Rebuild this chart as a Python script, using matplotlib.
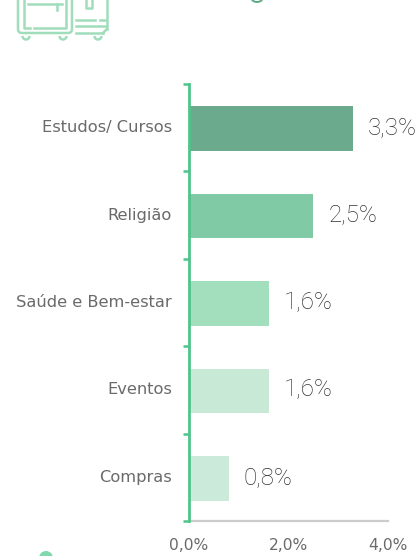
import matplotlib
matplotlib.use("Agg")
import matplotlib.pyplot as plt
from matplotlib.patches import FancyBboxPatch, Circle, Arc

categories = ["Estudos/ Cursos", "Religião", "Saúde e Bem-estar", "Eventos", "Compras"]
values = [3.3, 2.5, 1.6, 1.6, 0.8]
value_labels = ["3,3%", "2,5%", "1,6%", "1,6%", "0,8%"]
bar_colors = ["#6BAA8C", "#80CBA5", "#A3DFBC", "#C8E9D6", "#CBEAD9"]
x_ticks = [0, 2, 4]
x_tick_labels = ["0,0%", "2,0%", "4,0%"]

W, H = 415, 556
fig = plt.figure(figsize=(W / 100, H / 100), dpi=100, facecolor="white")
plt.rcParams["font.family"] = ["DejaVu Sans"]

ax = fig.add_axes([189 / W, 1 - 521 / H, 199 / W, 437 / H])
positions = list(range(len(categories)))
shift = 0.011
ax.barh(positions, values, height=0.51, color=bar_colors, linewidth=0, zorder=2)
ax.set_xlim(0, 4)
ax.set_ylim(len(categories) - 0.5 - shift, -0.5 - shift)

for s in ("top", "right"):
    ax.spines[s].set_visible(False)
ax.spines["left"].set_color("#4FC48A")
ax.spines["left"].set_linewidth(2)
ax.spines["bottom"].set_color("#CCCCCC")
ax.spines["bottom"].set_linewidth(1.6)
ax.spines["left"].set_zorder(4)

ax.set_yticks([p - 0.5 - shift for p in positions] + [len(categories) - 0.5 - shift])
ax.set_yticklabels([])
ax.tick_params(axis="y", length=4, width=1.8, color="#4FC48A", pad=0)
ax.set_xticks(x_ticks)
ax.set_xticklabels(x_tick_labels, fontsize=11.2, color="#6A6A6A")
ax.tick_params(axis="x", length=0, pad=12)

for p, cat, v, lab in zip(positions, categories, values, value_labels):
    ax.annotate(cat, xy=(0, p), xytext=(-17, 1), textcoords="offset pixels",
                ha="right", va="center", fontsize=11.7, color="#6A6A6A")
    ax.annotate(lab, xy=(v, p), xytext=(15, 1), textcoords="offset pixels",
                ha="left", va="center", fontsize=17.4, color="#333333",
                family=["Roboto", "DejaVu Sans"], fontweight="light",
                annotation_clip=False)

# decorative icon and cropped elements, in pixel space
deco = fig.add_axes([0, 0, 1, 1], zorder=-1)
deco.set_xlim(0, W)
deco.set_ylim(H, 0)
deco.axis("off")
ic = "#A0DDBB"
lw = 1.8
deco.add_patch(FancyBboxPatch((18, -20), 54, 53, boxstyle="round,pad=0,rounding_size=4",
                              fc="none", ec=ic, lw=lw))
deco.plot([24, 24, 30], [-5, 28, 28], color=ic, lw=lw)
deco.plot([34, 66, 66], [28, 28, -5], color=ic, lw=lw)
deco.plot([28, 62], [4, 4], color=ic, lw=lw)
deco.plot([57, 57], [4, 10], color=ic, lw=lw)
deco.plot([107, 107], [-5, 29], color=ic, lw=lw)
deco.plot([107, 103], [29, 33], color=ic, lw=lw)
deco.plot([76, 103], [33, 33], color=ic, lw=lw)
deco.plot([76, 105], [26, 26], color=ic, lw=lw)
deco.plot([76, 95], [20, 20], color=ic, lw=lw)
deco.plot([100, 105], [20, 20], color=ic, lw=lw)
deco.plot([86, 86, 92, 92], [-2, 8, 8, -2], color=ic, lw=lw)
for cx in (26, 63, 98):
    deco.add_patch(Arc((cx, 36), 7, 7, theta1=0, theta2=180, ec=ic, lw=lw))
deco.add_patch(Arc((257, -2), 11, 8, theta1=0, theta2=180, ec="#5FA886", lw=1.4))
deco.add_patch(Circle((46, 558), 7, fc="#80D8AC", ec="none"))

fig.savefig("out.png", dpi=100)
